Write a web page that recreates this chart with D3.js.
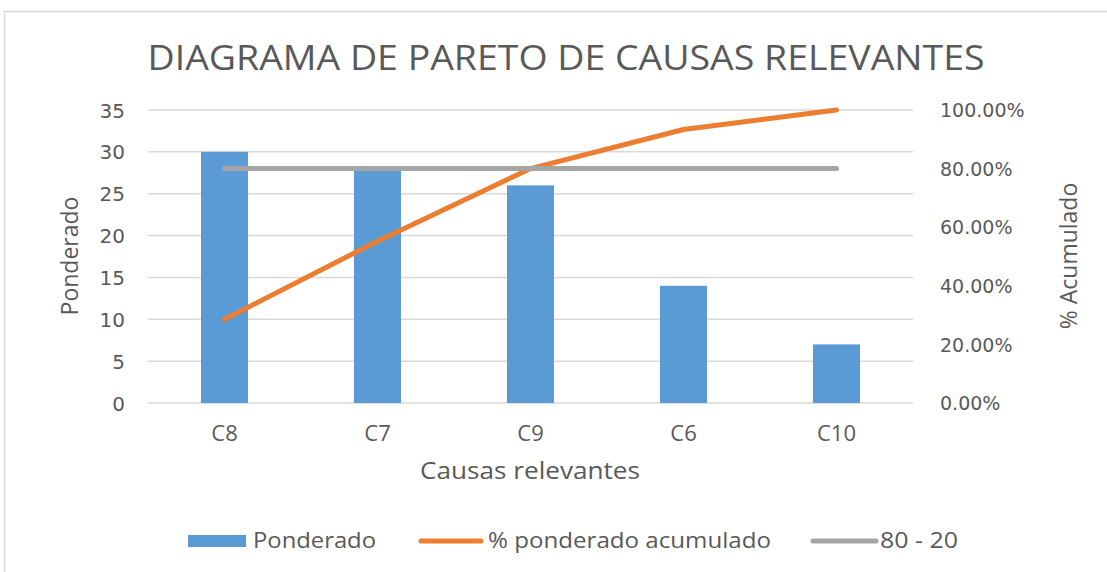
<!DOCTYPE html>
<html><head><meta charset="utf-8">
<script src="https://cdn.jsdelivr.net/npm/d3@7"></script>
<style>
body{margin:0;background:#fff;}
text{font-family:"Liberation Sans Narrow","Open Sans",sans-serif;fill:#595959;}
</style></head>
<body><svg id="c" width="1107" height="572"></svg>
<script>
const categories = ["C8","C7","C9","C6","C10"];
const ponderado = [30,28,26,14,7];
const acumulado = [0.2857,0.5524,0.80,0.9333,1.0];
const ref8020 = [0.8,0.8,0.8,0.8,0.8];
const leftTicks = [0,5,10,15,20,25,30,35];
const rightTicks = [0,0.2,0.4,0.6,0.8,1.0];
const title = "DIAGRAMA DE PARETO DE CAUSAS RELEVANTES";

const svg = d3.select("#c");
svg.append("rect").attr("x",4.5).attr("y",11.5).attr("width",1110).attr("height",570)
  .attr("fill","#fff").attr("stroke","#D9D9D9").attr("stroke-width",1.5);

const L=148,R=913,T=110,B=403;
const x = d3.scaleBand().domain(categories).range([L,R]);
const yL = d3.scaleLinear().domain([0,35]).range([B,T]);
const yR = d3.scaleLinear().domain([0,1]).range([B,T]);

// gridlines
svg.append("g").selectAll("line").data(leftTicks).join("line")
  .attr("x1",L).attr("x2",R).attr("y1",d=>yL(d)).attr("y2",d=>yL(d))
  .attr("stroke","#D9D9D9").attr("stroke-width",1.5);

// left axis
const gl = svg.append("g").attr("transform",`translate(${L-23},0)`)
  .call(d3.axisLeft(yL).tickValues(leftTicks).tickSize(0).tickPadding(0));
gl.select(".domain").remove();
gl.selectAll("text").style("font-family","'DejaVu Sans',sans-serif").attr("font-size",20).attr("fill","#595959").attr("dy","0.35em");

// right axis
const gr = svg.append("g").attr("transform",`translate(${R+27},0)`)
  .call(d3.axisRight(yR).tickValues(rightTicks).tickFormat(d=>(d*100).toFixed(2)+"%").tickSize(0).tickPadding(0));
gr.select(".domain").remove();
gr.selectAll("text").style("font-family","'DejaVu Sans',sans-serif").attr("font-size",19).attr("fill","#595959").attr("dy","0.35em");

// bars
const bw = 47;
svg.append("g").selectAll("rect").data(ponderado).join("rect")
  .attr("x",(d,i)=>x(categories[i])+x.bandwidth()/2-bw/2)
  .attr("y",d=>yL(d)).attr("width",bw).attr("height",d=>B-yL(d))
  .attr("fill","#5B9BD5");

// x axis labels
const gx = svg.append("g").attr("transform",`translate(0,${B+30})`)
  .call(d3.axisBottom(x).tickSize(0).tickPadding(0));
gx.select(".domain").remove();
gx.selectAll("text").attr("font-size",22).attr("fill","#595959").attr("dy","0.35em");

// lines
const cx = (d,i)=>x(categories[i])+x.bandwidth()/2;
svg.append("path").datum(acumulado)
  .attr("d",d3.line().x(cx).y(d=>yR(d)))
  .attr("fill","none").attr("stroke","#ED7D31").attr("stroke-width",5).attr("stroke-linecap","round").attr("stroke-linejoin","round");
svg.append("path").datum(ref8020)
  .attr("d",d3.line().x(cx).y(d=>yR(d)))
  .attr("fill","none").attr("stroke","#A5A5A5").attr("stroke-width",5).attr("stroke-linecap","round");

// title
svg.append("text").attr("x",566).attr("y",70).attr("text-anchor","middle")
  .attr("font-size",35).attr("textLength",837).attr("lengthAdjust","spacingAndGlyphs").text(title);

// axis titles
svg.append("text").attr("x",420).attr("y",479).attr("font-size",24)
  .attr("textLength",220).attr("lengthAdjust","spacingAndGlyphs").text("Causas relevantes");
svg.append("text").attr("transform","translate(78,256) rotate(-90)").attr("text-anchor","middle")
  .style("font-family","'Open Sans',sans-serif").attr("font-size",23).text("Ponderado");
svg.append("text").attr("transform","translate(1077,256) rotate(-90)").attr("text-anchor","middle")
  .style("font-family","'Open Sans',sans-serif").attr("font-size",23).text("% Acumulado");

// legend
const lg = svg.append("g");
const ly = 541;
lg.append("rect").attr("x",188).attr("y",ly-6).attr("width",58).attr("height",12).attr("fill","#5B9BD5");
lg.append("text").attr("x",253).attr("y",ly+7).attr("font-size",21).attr("textLength",123).attr("lengthAdjust","spacingAndGlyphs").text("Ponderado");
lg.append("line").attr("x1",421).attr("x2",481).attr("y1",ly).attr("y2",ly).attr("stroke","#ED7D31").attr("stroke-width",5).attr("stroke-linecap","round");
lg.append("text").attr("x",488).attr("y",ly+7).attr("font-size",21).attr("textLength",283).attr("lengthAdjust","spacingAndGlyphs").text("% ponderado acumulado");
lg.append("line").attr("x1",813).attr("x2",876).attr("y1",ly).attr("y2",ly).attr("stroke","#A5A5A5").attr("stroke-width",5).attr("stroke-linecap","round");
lg.append("text").attr("x",880).attr("y",ly+7).attr("font-size",21).attr("textLength",78).attr("lengthAdjust","spacingAndGlyphs").text("80 - 20");
</script></body></html>
